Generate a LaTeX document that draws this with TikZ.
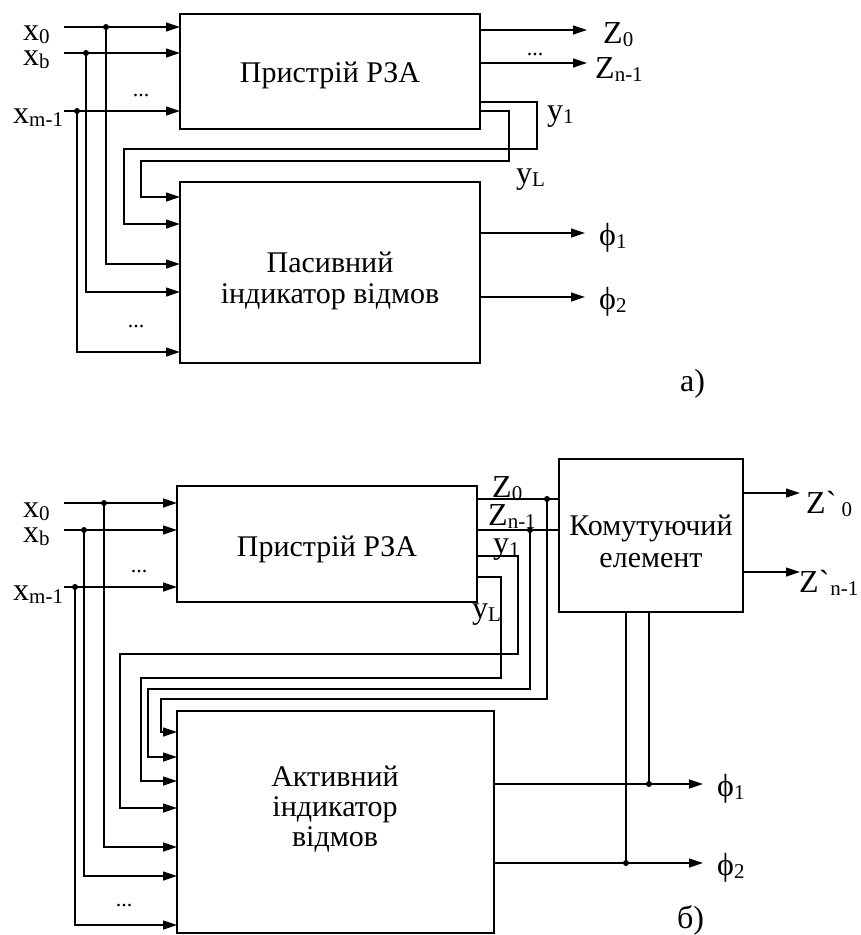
\documentclass[tikz,border=0pt]{standalone}
\usepackage{fontspec}
\setmainfont{Liberation Serif}
\usetikzlibrary{arrows.meta}
\newcommand\lsub[1]{\raisebox{-0.12em}{\fontsize{21}{22}\selectfont #1}}
\begin{document}
\begin{tikzpicture}[x=1pt,y=-1pt,
  wire/.style={line width=1.2pt},
  arr/.style={line width=1.2pt,-{Triangle[length=14pt,width=9pt]}},
  blk/.style={draw,line width=1.2pt,anchor=north west,inner sep=0pt,outer sep=0pt},
  lbl/.style={font=\fontsize{32}{34}\selectfont,inner sep=0pt,anchor=base west},
  txt/.style={font=\fontsize{30}{32}\selectfont,inner sep=0pt,anchor=base},
  dts/.style={font=\fontsize{22}{24}\selectfont,inner sep=0pt},
  jn/.style={circle,fill,inner sep=0pt,minimum size=6pt}]
\useasboundingbox (0,0) rectangle (860,935);

% ================= a) =================
\node[blk,minimum width=300pt,minimum height=115pt] (A1) at (180,14) {};
\node[blk,minimum width=300pt,minimum height=181pt] (A2) at (180,182) {};
\node[txt] (A1t) at (330,82) {Пристрій РЗА};
\node[txt] (A2t1) at (330,272) {Пасивний};
\node[txt] (A2t2) at (330,303) {індикатор відмов};

% inputs
\coordinate (a0) at (64,27);
\coordinate (ab) at (64,53);
\coordinate (am) at (64,111);
\node[lbl] (la0) at (23,40) {x\lsub{0}};
\node[lbl] (lab) at (23,65) {x\lsub{b}};
\node[lbl] (lam) at (13,123) {x\lsub{m-1}};
\draw[arr] (a0) -- (a0 -| A1.west);
\draw[arr] (ab) -- (ab -| A1.west);
\draw[arr] (am) -- (am -| A1.west);
\node[dts] (ad1) at (141,96) {...};

\coordinate (a0j) at (106,27);
\coordinate (abj) at (86,53);
\coordinate (amj) at (77,111);
\coordinate (a0k) at (106,264);
\coordinate (abk) at (86,292);
\coordinate (amk) at (77,352);
\draw[arr] (a0j) -- (a0k) -- (a0k -| A2.west);
\draw[arr] (abj) -- (abk) -- (abk -| A2.west);
\draw[arr] (amj) -- (amk) -- (amk -| A2.west);
\node[jn] at (a0j) {};
\node[jn] at (abj) {};
\node[jn] at (amj) {};
\node[dts] (ad2) at (136,327) {...};

% outputs Z
\coordinate (az0) at (587,30);
\coordinate (azn) at (587,63);
\draw[arr] (az0 -| A1.east) -- (az0);
\draw[arr] (azn -| A1.east) -- (azn);
\node[dts] (ad3) at (535,55) {...};
\node[lbl] (laz0) at (603,43) {Z\lsub{0}};
\node[lbl] (lazn) at (595,78) {Z\lsub{n-1}};

% feedback y1, yL
\coordinate (ay1) at (537,102);
\coordinate (ayL) at (509,111);
\coordinate (ay1e) at (124,224);
\coordinate (ayLe) at (141,197);
\draw[arr] (ay1 -| A1.east) -- (ay1) -- (537,149) -- (124,149) -- (ay1e) -- (ay1e -| A2.west);
\draw[arr] (ayL -| A1.east) -- (ayL) -- (509,161) -- (141,161) -- (ayLe) -- (ayLe -| A2.west);
\node[lbl] (lay1) at (547,120) {y\lsub{1}};
\node[lbl] (layL) at (516,183) {y\lsub{L}};

% outputs phi
\coordinate (ap1) at (585,233);
\coordinate (ap2) at (585,297);
\draw[arr] (ap1 -| A2.east) -- (ap1);
\draw[arr] (ap2 -| A2.east) -- (ap2);
\node[lbl] (lap1) at (599,245) {ϕ\lsub{1}};
\node[lbl] (lap2) at (599,309) {ϕ\lsub{2}};
\node[lbl] (la) at (680,391) {а)};

% ================= б) =================
\node[blk,minimum width=300pt,minimum height=116pt] (B1) at (177,486) {};
\node[blk,minimum width=184pt,minimum height=153pt] (BK) at (559,459) {};
\node[blk,minimum width=317pt,minimum height=222pt] (B2) at (177,711) {};
\node[txt] (B1t) at (327,556) {Пристрій РЗА};
\node[txt] (BKt1) at (651,535) {Комутуючий};
\node[txt] (BKt2) at (651,567) {елемент};
\node[txt] (B2t1) at (335,786) {Активний};
\node[txt] (B2t2) at (335,816) {індикатор};
\node[txt] (B2t3) at (335,846) {відмов};

% inputs
\coordinate (b0) at (64,503);
\coordinate (bb) at (64,530);
\coordinate (bm) at (64,587);
\node[lbl] (lb0) at (23,517) {x\lsub{0}};
\node[lbl] (lbb) at (23,542) {x\lsub{b}};
\node[lbl] (lbm) at (13,600) {x\lsub{m-1}};
\draw[arr] (b0) -- (b0 -| B1.west);
\draw[arr] (bb) -- (bb -| B1.west);
\draw[arr] (bm) -- (bm -| B1.west);
\node[dts] (bd1) at (139,572) {...};

\coordinate (b0j) at (104,503);
\coordinate (bbj) at (84,530);
\coordinate (bmj) at (75,587);
\coordinate (b0k) at (104,847);
\coordinate (bbk) at (84,876);
\coordinate (bmk) at (75,925);
\draw[arr] (b0j) -- (b0k) -- (b0k -| B2.west);
\draw[arr] (bbj) -- (bbk) -- (bbk -| B2.west);
\draw[arr] (bmj) -- (bmk) -- (bmk -| B2.west);
\node[jn] at (b0j) {};
\node[jn] at (bbj) {};
\node[jn] at (bmj) {};
\node[dts] (bd2) at (124,906) {...};

% Z lines to switching element
\coordinate (bz0) at (547,499);
\coordinate (bzn) at (530,530);
\draw[wire] (bz0 -| B1.east) -- (bz0 -| BK.west);
\draw[wire] (bzn -| B1.east) -- (bzn -| BK.west);
\node[jn] at (bz0) {};
\node[jn] at (bzn) {};
\node[lbl] (lbz0) at (492,497) {Z\lsub{0}};
\node[lbl] (lbzn) at (488,525) {Z\lsub{n-1}};

% feedback into active indicator
\coordinate (bz0e) at (161,732);
\coordinate (bzne) at (148,757);
\coordinate (byLe) at (141,781);
\coordinate (by1e) at (120,808);
\coordinate (by1) at (518,556);
\coordinate (byL) at (501,577);
\draw[arr] (bz0) -- (547,699) -- (161,699) -- (bz0e) -- (bz0e -| B2.west);
\draw[arr] (bzn) -- (530,689) -- (148,689) -- (bzne) -- (bzne -| B2.west);
\draw[arr] (by1 -| B1.east) -- (by1) -- (518,654) -- (120,654) -- (by1e) -- (by1e -| B2.west);
\draw[arr] (byL -| B1.east) -- (byL) -- (501,678) -- (141,678) -- (byLe) -- (byLe -| B2.west);
\node[lbl] (lby1) at (493,553) {y\lsub{1}};
\node[lbl] (lbyL) at (472,618) {y\lsub{L}};

% switching element outputs
\coordinate (bk0) at (800,493);
\coordinate (bkn) at (800,572);
\draw[arr] (bk0 -| BK.east) -- (bk0);
\draw[arr] (bkn -| BK.east) -- (bkn);
\node[lbl] (lbk0) at (806,513) {Z\textasciigrave\,\lsub{0}};
\node[lbl] (lbkn) at (799,592) {Z\textasciigrave\kern1pt\lsub{n-1}};

% phi outputs
\coordinate (bp1) at (703,784);
\coordinate (bp2) at (703,863);
\coordinate (bp1j) at (649,784);
\coordinate (bp2j) at (626,863);
\draw[arr] (bp1 -| B2.east) -- (bp1);
\draw[arr] (bp2 -| B2.east) -- (bp2);
\draw[wire] (bp1j |- BK.south) -- (bp1j);
\draw[wire] (bp2j |- BK.south) -- (bp2j);
\node[jn] at (bp1j) {};
\node[jn] at (bp2j) {};
\node[lbl] (lbp1) at (717,796) {ϕ\lsub{1}};
\node[lbl] (lbp2) at (717,875) {ϕ\lsub{2}};
\node[lbl] (lb) at (677,928) {б)};
\end{tikzpicture}
\end{document}
